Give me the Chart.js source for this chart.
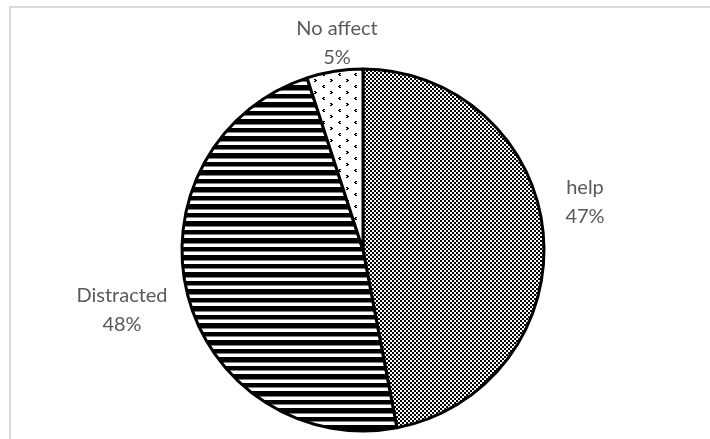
<!DOCTYPE html>
<html>
<head>
<meta charset="utf-8">
<script src="https://cdn.jsdelivr.net/npm/chart.js@4.4.1/dist/chart.umd.min.js"></script>
<style>
  html, body { margin: 0; padding: 0; background: #fff; }
  #wrap { position: relative; width: 710px; height: 439px; }
  #frame { position: absolute; left: 9px; top: 6px; width: 720px; height: 460px;
           border-left: 2px solid #d9d9d9; border-top: 2px solid #d9d9d9; box-sizing: border-box; }
  canvas { position: absolute; left: 0; top: 0; }
</style>
</head>
<body>
<div id="wrap">
  <div id="frame"></div>
  <canvas id="c" width="710" height="439"></canvas>
</div>
<script>
// Survey answers: effect on the respondents
const categories = ['help', 'Distracted', 'No affect'];
const shares = [47, 48, 5];
const percentLabels = ['47%', '48%', '5%'];

// Label centres (first line), in canvas pixels
const labelAnchors = [[585, 188], [122, 296], [337, 29]];

function makePattern(w, h, draw) {
  const c = document.createElement('canvas');
  c.width = w; c.height = h;
  const g = c.getContext('2d');
  g.fillStyle = '#fff';
  g.fillRect(0, 0, w, h);
  g.fillStyle = '#000';
  draw(g);
  return document.getElementById('c').getContext('2d').createPattern(c, 'repeat');
}

// small checkerboard
const checker = makePattern(4, 4, g => {
  g.fillRect(0, 0, 2, 2);
  g.fillRect(2, 2, 2, 2);
});
// wide horizontal stripes (about 8.5 px period)
const stripes = makePattern(8, 17, g => {
  g.fillRect(0, 0, 8, 5);
  g.fillRect(0, 9, 8, 4);
  g.fillStyle = '#808080';
  g.fillRect(0, 5, 8, 1);
  g.fillRect(0, 13, 8, 1);
});
// sparse little chevrons
const dots = makePattern(16, 12, g => {
  const left = (x, y) => {
    g.fillRect(x + 1, y, 2, 1);
    g.fillRect(x, y + 1, 2, 1);
    g.fillRect(x + 1, y + 2, 2, 1);
  };
  const right = (x, y) => {
    g.fillRect(x, y, 2, 1);
    g.fillRect(x + 1, y + 1, 2, 1);
    g.fillRect(x, y + 2, 2, 1);
  };
  left(2, 1);
  right(10, 7);
});

const labelPlugin = {
  id: 'sliceLabels',
  afterDatasetsDraw(chart) {
    const ctx = chart.ctx;
    ctx.save();
    ctx.fillStyle = '#595959';
    ctx.font = '20px Lato, "Liberation Sans", sans-serif';
    ctx.textAlign = 'center';
    ctx.textBaseline = 'middle';
    categories.forEach((name, i) => {
      const [x, y] = labelAnchors[i];
      ctx.fillText(name, x, y);
      ctx.fillText(percentLabels[i], x, y + 29);
    });
    ctx.restore();
  }
};

new Chart(document.getElementById('c'), {
  type: 'pie',
  data: {
    labels: categories,
    datasets: [{
      data: shares,
      backgroundColor: [checker, stripes, dots],
      borderColor: '#000',
      borderWidth: 3
    }]
  },
  options: {
    responsive: false,
    animation: false,
    radius: 181,
    layout: { padding: { left: 16, right: 0, top: 61, bottom: 0 } },
    plugins: { legend: { display: false }, tooltip: { enabled: false } }
  },
  plugins: [labelPlugin]
});
</script>
</body>
</html>
